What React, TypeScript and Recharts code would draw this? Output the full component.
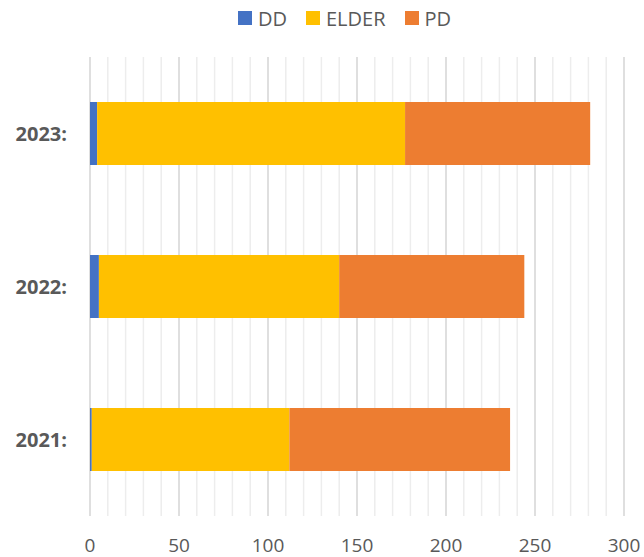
import { BarChart, Bar, XAxis, YAxis, CartesianGrid, Legend } from "recharts"

const years = ["2021:", "2022:", "2023:"]
const ddValues = [1, 5, 4]
const elderValues = [111, 135, 173]
const pdValues = [124, 104, 104]

const majorTicks = [0, 50, 100, 150, 200, 250, 300]
const minorTicks = [0, 10, 20, 30, 40, 50, 60, 70, 80, 90, 100, 110, 120, 130, 140, 150, 160, 170, 180, 190, 200, 210, 220, 230, 240, 250, 260, 270, 280, 290, 300]

const series = [
    { key: "DD", color: "#4472C4", values: ddValues },
    { key: "ELDER", color: "#FFC000", values: elderValues },
    { key: "PD", color: "#ED7D31", values: pdValues },
]

const data = years.map((year, i) => ({
    year,
    DD: ddValues[i],
    ELDER: elderValues[i],
    PD: pdValues[i],
}))

const FONT = "'Open Sans', sans-serif"

const TopLegend = () => (
    <div style={{ height: 57, display: "flex", justifyContent: "center", paddingLeft: 84, paddingTop: 4, boxSizing: "border-box" }}>
        {series.map((s) => (
            <div key={s.key} style={{ display: "flex", alignItems: "center", marginRight: 19, height: 28 }}>
                <span style={{ width: 14, height: 14, background: s.color, display: "inline-block", marginRight: 6 }} />
                <span style={{ fontFamily: FONT, fontSize: 20, color: "#595959" }}>{s.key}</span>
            </div>
        ))}
    </div>
)

// minor gridlines every 10; use the axis scale when recharts hands it over
const minorLines = ({ xAxis, offset }: any) => {
    const sc = xAxis?.scale
    const dom = xAxis?.domain ?? [0, 300]
    return minorTicks.map((v) => {
        if (typeof sc === "function") return sc(v)
        if (sc && typeof sc.map === "function") return sc.map(v)
        return offset.left + ((v - dom[0]) / (dom[1] - dom[0])) * offset.width
    })
}

export default function App() {
    return (
        <div style={{ position: "absolute", left: 0, top: 0, background: "#fff" }}>
            <BarChart
                width={644}
                height={557}
                data={data}
                layout="vertical"
                margin={{ top: 0, right: 20, bottom: 0, left: 0 }}
                barSize={63}
            >
                <Legend verticalAlign="top" content={<TopLegend />} wrapperStyle={{ top: 0, left: 0, width: 624 }} />
                <CartesianGrid horizontal={false} stroke="#EDEDED" strokeWidth={1.5} verticalCoordinatesGenerator={minorLines} />
                <CartesianGrid horizontal={false} stroke="#D9D9D9" strokeWidth={1.5} />
                <XAxis
                    type="number"
                    domain={[0, 300]}
                    ticks={majorTicks}
                    axisLine={false}
                    tickLine={false}
                    tickMargin={17}
                    height={41}
                    tick={{ fontFamily: FONT, fontSize: 19, fill: "#595959" }}
                />
                <YAxis
                    type="category"
                    dataKey="year"
                    reversed
                    width={90}
                    axisLine={false}
                    tickLine={false}
                    tickMargin={17}
                    tick={{ fontFamily: FONT, fontSize: 20, fill: "#595959", fontWeight: 700 }}
                />
                {series.map((s) => (
                    <Bar key={s.key} dataKey={s.key} stackId="a" fill={s.color} isAnimationActive={false} />
                ))}
            </BarChart>
        </div>
    )
}
